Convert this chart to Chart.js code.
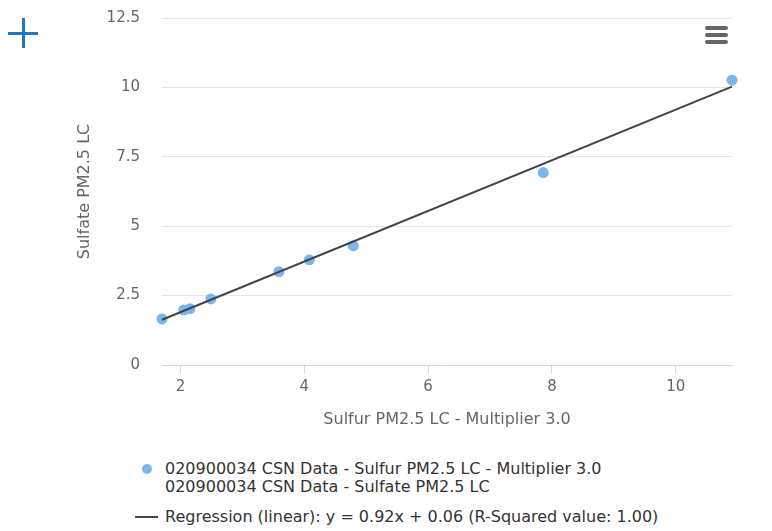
<!DOCTYPE html>
<html>
<head>
<meta charset="utf-8">
<script src="https://cdn.jsdelivr.net/npm/chart.js@4/dist/chart.umd.min.js"></script>
<style>
  body { margin: 0; background: #fff; font-family: "DejaVu Sans", sans-serif; }
  #wrap { position: relative; width: 772px; height: 531px; }
  #chart { position: absolute; left: 0; top: 0; }
  .plus-h { position: absolute; left: 8px; top: 32px; width: 30px; height: 3px; background: #1f78c1; }
  .plus-v { position: absolute; left: 22px; top: 18px; width: 3px; height: 30px; background: #1f78c1; }
  .bar { position: absolute; left: 705px; width: 23px; height: 4px; border-radius: 2px; background: #666; }
  #legend { position: absolute; left: 0; top: 458px; width: 772px; font-size: 16px; color: #333; }
  .item { position: absolute; left: 165px; white-space: nowrap; line-height: 18px; }
  .dot { position: absolute; left: 142px; width: 10px; height: 10px; border-radius: 50%; background: #7cb5ec; }
  .dash { position: absolute; left: 135px; width: 23px; height: 2px; background: #434348; }
</style>
</head>
<body>
<div id="wrap">
  <canvas id="chart" width="772" height="433"></canvas>
  <div class="plus-h"></div>
  <div class="plus-v"></div>
  <div class="bar" style="top:26px"></div>
  <div class="bar" style="top:33px"></div>
  <div class="bar" style="top:40px"></div>
  <div id="legend">
    <div class="dot" style="top:6px"></div>
    <div class="item" style="top:2px">020900034 CSN Data - Sulfur PM2.5 LC - Multiplier 3.0<br>020900034 CSN Data - Sulfate PM2.5 LC</div>
    <div class="dash" style="top:58px"></div>
    <div class="item" style="top:50px">Regression (linear): y = 0.92x + 0.06 (R-Squared value: 1.00)</div>
  </div>
</div>
<script>
const sulfurX = [1.70, 2.05, 2.15, 2.49, 3.59, 4.08, 4.79, 7.86, 10.91];
const sulfateY = [1.66, 1.98, 2.03, 2.38, 3.36, 3.79, 4.30, 6.93, 10.26];
const regressionX = [1.70, 10.91];
const regressionY = [1.63, 10.03];
const xTicks = [2, 4, 6, 8, 10];

const scatterData = sulfurX.map((x, i) => ({ x: x, y: sulfateY[i] }));
const lineData = regressionX.map((x, i) => ({ x: x, y: regressionY[i] }));

new Chart("chart", {
  type: "scatter",
  data: {
    datasets: [
      {
        label: "020900034 CSN Data - Sulfur PM2.5 LC - Multiplier 3.0",
        data: scatterData,
        backgroundColor: "#7cb5ec",
        borderWidth: 0,
        pointRadius: 5.5,
        clip: false,
        order: 2,
      },
      {
        label: "Regression (linear)",
        data: lineData,
        type: "line",
        borderColor: "#434348",
        borderWidth: 2,
        pointRadius: 0,
        fill: false,
        clip: false,
        order: 1,
      },
    ],
  },
  options: {
    responsive: false,
    animation: false,
    layout: { padding: { left: 71, top: 18, right: 40, bottom: 0 } },
    plugins: { legend: { display: false }, tooltip: { enabled: false } },
    scales: {
      x: {
        type: "linear",
        min: 1.70,
        max: 10.91,
        afterBuildTicks: (scale) => {
          scale.ticks = xTicks.map((v) => ({ value: v }));
        },
        afterFit: (scale) => {
          scale.height = 68;
        },
        grid: { drawOnChartArea: false, tickLength: 8, color: "#ccd6eb" },
        border: { color: "#ccd6eb", width: 1 },
        ticks: { color: "#666", font: { family: "DejaVu Sans", size: 15 }, padding: 5, maxRotation: 0 },
        title: {
          display: true,
          text: "Sulfur PM2.5 LC - Multiplier 3.0",
          color: "#666",
          font: { family: "DejaVu Sans", size: 16 },
          padding: { top: 4, bottom: 4 },
        },
      },
      y: {
        min: 0,
        max: 12.5,
        ticks: { stepSize: 2.5, color: "#666", font: { family: "DejaVu Sans", size: 15 }, padding: 3 },
        afterFit: (scale) => {
          scale.width = 91;
        },
        grid: { color: "#e6e6e6", drawTicks: true, tickLength: 19, tickColor: "rgba(0,0,0,0)" },
        border: { display: false },
        title: {
          display: true,
          text: "Sulfate PM2.5 LC",
          color: "#666",
          font: { family: "DejaVu Sans", size: 16 },
          padding: { top: 4, bottom: 4 },
        },
      },
    },
  },
});
</script>
</body>
</html>
